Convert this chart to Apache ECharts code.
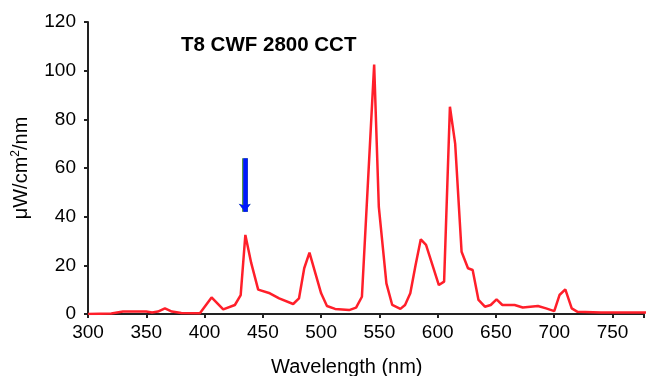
<!DOCTYPE html>
<html>
<head>
<meta charset="utf-8">
<script src="https://cdn.jsdelivr.net/npm/echarts@6/dist/echarts.min.js"></script>
<style>
  html, body { margin: 0; padding: 0; background: #fff; }
  #chart { width: 647px; height: 376px; }
</style>
</head>
<body>
<div id="chart"></div>
<script>
// spectrum
const wavelengths = [300, 320, 330, 340, 350, 355, 360, 366, 372, 380, 396, 406, 416, 426, 431, 435, 440, 446, 456, 464, 476, 481, 485.5, 490, 500, 505, 512, 524, 530, 535, 545.5, 549.5, 556, 561, 568, 572, 576.5, 581, 585.5, 590, 601, 605.5, 610.5, 615, 620.5, 626, 630, 635, 640.5, 645.5, 650.5, 655.5, 666, 673, 686, 693, 700, 704.5, 709.5, 715, 720, 740, 760, 780]
const intensity = [0, 0.2, 1, 1, 1, 0.6, 1, 2.3, 1, 0.4, 0.3, 6.8, 1.9, 3.7, 7.8, 32.5, 21, 10, 8.5, 6.4, 4.1, 6.4, 18.8, 25.2, 8.5, 3.3, 2.1, 1.6, 2.6, 7.1, 102.5, 44, 12.6, 3.7, 2.1, 3.7, 8.5, 20, 30.7, 28.4, 11.9, 13.3, 85.2, 70, 25.6, 18.8, 18.1, 5.8, 3.0, 3.7, 6.0, 3.7, 3.7, 2.7, 3.3, 2.3, 1.2, 7.8, 10.1, 2.3, 0.9, 0.6, 0.6, 0.6]
const arrowAt = 434.5
const arrowFrom = 64
const arrowTo = 42

const chart = echarts.init(document.getElementById('chart'))
const axisColor = '#222'
const font = 'Liberation Sans, Arial, sans-serif'

chart.setOption({
    backgroundColor: '#fff',
    animation: false,
    title: {
        text: 'T8 CWF 2800 CCT',
        left: 176,
        top: 30,
        textStyle: { fontFamily: font, fontSize: 20.5, fontWeight: 'bold', color: '#000' }
    },
    grid: { left: 88, right: 0, top: 22, bottom: 62 },
    xAxis: {
        type: 'value',
        min: 300,
        max: 777,
        interval: 50,
        axisLine: { lineStyle: { color: axisColor, width: 2 } },
        axisTick: { length: 4, lineStyle: { color: axisColor, width: 2 } },
        splitLine: { show: false },
        axisLabel: {
            margin: 9,
            color: '#000',
            fontFamily: font,
            fontSize: 19,
            formatter: v => (v % 50 === 0 ? String(v) : '')
        }
    },
    yAxis: {
        type: 'value',
        min: 0,
        max: 120,
        interval: 20,
        name: '{t|μW/cm}{s|2}{t|/nm}',
        nameLocation: 'middle',
        nameRotate: 90,
        nameGap: 56,
        nameTextStyle: {
            fontFamily: font,
            color: '#000',
            rich: {
                t: { fontFamily: font, fontSize: 20, color: '#000', lineHeight: 22 },
                s: { fontFamily: font, fontSize: 12, color: '#000', verticalAlign: 'top', lineHeight: 22, padding: [0, 0, 8, 0] }
            }
        },
        axisLine: { show: true, lineStyle: { color: axisColor, width: 2 } },
        axisTick: { show: true, length: 4, lineStyle: { color: axisColor, width: 2 } },
        splitLine: { show: false },
        axisLabel: { margin: 12, color: '#000', fontFamily: font, fontSize: 19 }
    },
    graphic: [{
        type: 'text',
        left: 271,
        top: 357,
        style: { text: 'Wavelength (nm)', fontFamily: font, fontSize: 20, fill: '#000' }
    }],
    series: [
        {
            type: 'line',
            data: wavelengths.map((w, i) => [w, intensity[i]]),
            showSymbol: false,
            lineStyle: { color: '#ff1f2a', width: 2.5 },
            z: 3,
            markLine: {
                silent: true,
                symbol: ['none', 'arrow'],
                symbolSize: [9, 8],
                label: { show: false },
                data: [
                    [
                        { coord: [arrowAt, arrowFrom], lineStyle: { color: '#5a9a4a', width: 6, type: 'solid' }, itemStyle: { color: '#5a9a4a' } },
                        { coord: [arrowAt, arrowTo] }
                    ],
                    [
                        { coord: [arrowAt, arrowFrom], lineStyle: { color: '#0018ff', width: 4.5, type: 'solid' }, itemStyle: { color: '#0018ff' } },
                        { coord: [arrowAt, arrowTo] }
                    ]
                ]
            }
        }
    ]
})
</script>
</body>
</html>
